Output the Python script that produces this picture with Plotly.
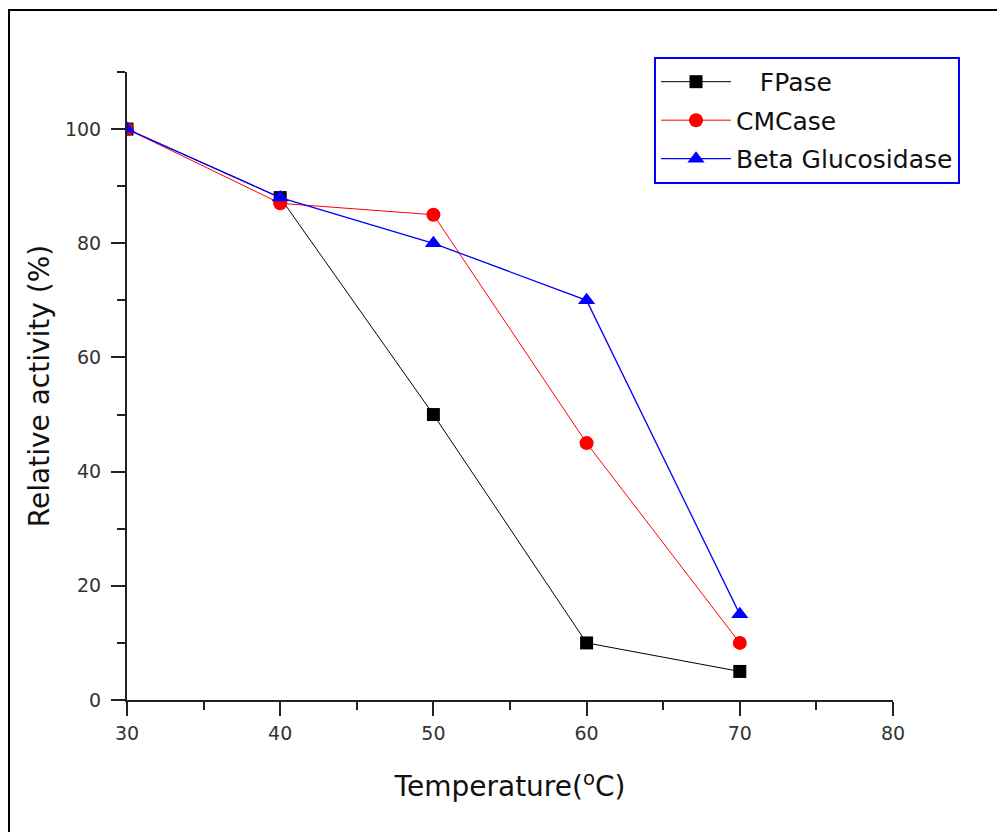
import plotly.graph_objects as go

temperature = [30, 40, 50, 60, 70]
fpase = [100, 88, 50, 10, 5]
cmcase = [100, 87, 85, 45, 10]
beta_glucosidase = [100, 88, 80, 70, 15]

FONT = "DejaVu Sans, Verdana, sans-serif"

fig = go.Figure()
fig.add_trace(go.Scatter(x=temperature, y=fpase, name="   FPase", mode="lines+markers",
                         legendgroup="a",
                         line=dict(color="black", width=1),
                         marker=dict(symbol="square", size=13, color="black")))
fig.add_trace(go.Scatter(x=temperature, y=cmcase, name="CMCase", mode="lines+markers",
                         legendgroup="b",
                         line=dict(color="red", width=1),
                         marker=dict(symbol="circle", size=14, color="red")))
fig.add_trace(go.Scatter(x=temperature, y=beta_glucosidase, name="Beta Glucosidase", mode="lines+markers",
                         legendgroup="c",
                         line=dict(color="blue", width=1.3),
                         marker=dict(symbol="triangle-up", size=15, color="blue")))

axis_common = dict(showline=True, linecolor="#222", linewidth=2, ticks="outside",
                   ticklen=14, tickwidth=2, tickcolor="#222", showgrid=False, zeroline=False,
                   tickfont=dict(family=FONT, size=19, color="#333"))

fig.update_xaxes(range=[30, 80], dtick=10, tick0=30, ticklabelstandoff=1,
                 minor=dict(dtick=5, ticklen=8, tickwidth=2, tickcolor="#222", ticks="outside"),
                 title=dict(text="Temperature(<sup>o</sup>C)", font=dict(family=FONT, size=28, color="#111"), standoff=34),
                 **axis_common)
fig.update_yaxes(range=[0, 110], dtick=20, tick0=0, ticklabelstandoff=6,
                 minor=dict(dtick=10, ticklen=8, tickwidth=2, tickcolor="#222", ticks="outside"),
                 title=dict(text="Relative activity (%)", font=dict(family=FONT, size=28, color="#111"), standoff=7),
                 **axis_common)

fig.update_layout(
    width=997, height=832,
    margin=dict(l=127, r=104, t=72, b=132, autoexpand=False),
    paper_bgcolor="white", plot_bgcolor="white",
    font=dict(family=FONT),
    showlegend=True,
    legend=dict(x=0.688, y=1.024, xanchor="left", yanchor="top",
                bordercolor="blue", borderwidth=2, bgcolor="white",
                font=dict(family=FONT, size=25, color="#111"),
                itemwidth=70, tracegroupgap=3, traceorder="grouped"),
    shapes=[dict(type="rect", xref="paper", yref="paper",
                 x0=(9 - 127) / 766, x1=1.3, y0=-0.4, y1=(700 - 10) / 628,
                 line=dict(color="black", width=2), layer="below")],
)

fig.write_html("out.html")
